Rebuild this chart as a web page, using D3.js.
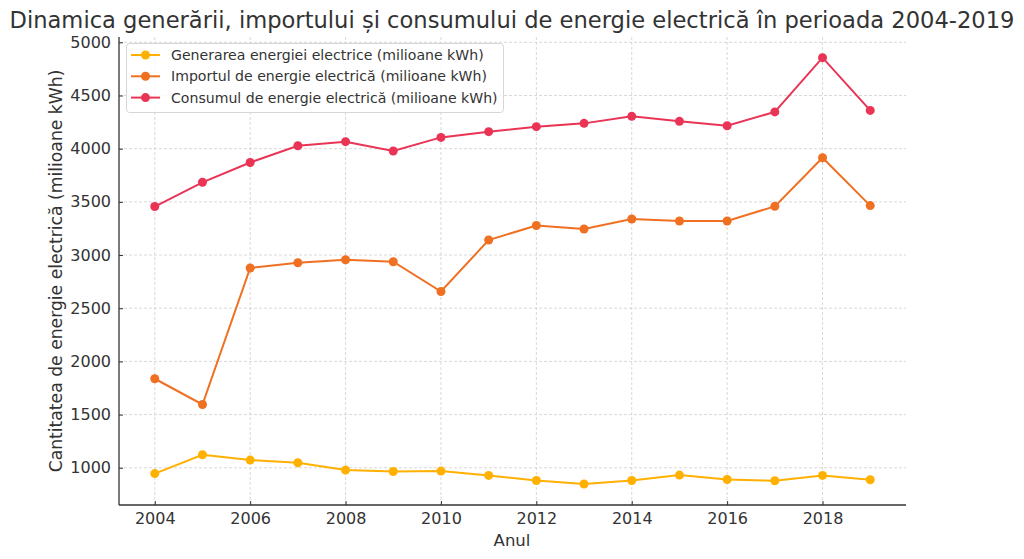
<!DOCTYPE html>
<html><head><meta charset="utf-8">
<script src="https://cdn.jsdelivr.net/npm/d3@7"></script>
<style>body{margin:0;background:#fff}svg{font-family:"DejaVu Sans",sans-serif}</style>
</head><body><svg id="c" width="1024" height="559"></svg>
<script>
const years = [2004,2005,2006,2007,2008,2009,2010,2011,2012,2013,2014,2015,2016,2017,2018,2019];
const generare = [945,1122,1072,1047,978,965,969,928,880,847,880,931,890,878,928,887];
const import_ = [1837,1595,2878,2928,2956,2937,2657,3141,3278,3245,3339,3320,3320,3458,3915,3465];
const consum = [3456,3684,3870,4028,4066,3978,4106,4160,4207,4238,4304,4257,4216,4346,4856,4360];
const seriesNames = ["Generarea energiei electrice (milioane kWh)","Importul de energie electrică (milioane kWh)","Consumul de energie electrică (milioane kWh)"];
const colors = ["#FFB000","#F07022","#EA3456"];
const xTicks = [2004,2006,2008,2010,2012,2014,2016,2018];
const yTicks = [1000,1500,2000,2500,3000,3500,4000,4500,5000];

const svg = d3.select("#c");
const L=119,R=906,T=37,B=505;
const x = d3.scaleLinear().domain([2003.25,2019.75]).range([L,R]);
const y = d3.scaleLinear().domain([650,5050]).range([B,T]);
const txt="#333";

// grid
svg.append("g").selectAll("line").data(xTicks).join("line")
  .attr("x1",d=>x(d)).attr("x2",d=>x(d)).attr("y1",T).attr("y2",B)
  .attr("stroke","#cfcfcf").attr("stroke-width",0.8).attr("stroke-dasharray","3,2");
svg.append("g").selectAll("line").data(yTicks).join("line")
  .attr("x1",L).attr("x2",R).attr("y1",d=>y(d)).attr("y2",d=>y(d))
  .attr("stroke","#cfcfcf").attr("stroke-width",0.8).attr("stroke-dasharray","3,2");

// axes
const xa = svg.append("g").attr("transform",`translate(0,${B})`)
  .call(d3.axisBottom(x).tickValues(xTicks).tickFormat(d3.format("d")).tickSizeInner(-4).tickSizeOuter(0).tickPadding(8));
const ya = svg.append("g").attr("transform",`translate(${L},0)`)
  .call(d3.axisLeft(y).tickValues(yTicks).tickFormat(d3.format("d")).tickSizeInner(-4).tickSizeOuter(0).tickPadding(8));
[xa,ya].forEach(a=>{
  a.select(".domain").attr("stroke","#333").attr("stroke-width",1.3);
  a.selectAll(".tick line").attr("stroke","#333");
  a.selectAll(".tick text").attr("fill",txt).style("font-size","16px").style("font-family","DejaVu Sans");
});
xa.select(".domain").attr("d",`M${L},0H${R}`);
ya.select(".domain").attr("d",`M0,${B}V${T}`);

// lines
const data=[generare,import_,consum];
data.forEach((vals,i)=>{
  const pts = years.map((yr,j)=>[yr,vals[j]]);
  svg.append("path").datum(pts)
    .attr("d",d3.line().x(d=>x(d[0])).y(d=>y(d[1])))
    .attr("fill","none").attr("stroke",colors[i]).attr("stroke-width",2);
  svg.append("g").selectAll("circle").data(pts).join("circle")
    .attr("cx",d=>x(d[0])).attr("cy",d=>y(d[1])).attr("r",4.5).attr("fill",colors[i]);
});

// titles
svg.append("text").attr("x",512).attr("y",28).attr("text-anchor","middle")
  .attr("fill",txt).style("font-size","22.6px").text("Dinamica generării, importului și consumului de energie electrică în perioada 2004-2019");
svg.append("text").attr("x",512).attr("y",546).attr("text-anchor","middle")
  .attr("fill",txt).style("font-size","16.5px").text("Anul");
svg.append("text").attr("transform",`translate(62,${(T+B)/2}) rotate(-90)`).attr("text-anchor","middle")
  .attr("fill",txt).style("font-size","17.2px").text("Cantitatea de energie electrică (milioane kWh)");

// legend
const lg = svg.append("g");
lg.append("rect").attr("x",126.5).attr("y",43.5).attr("width",377).attr("height",69).attr("rx",3)
  .attr("fill","#fff").attr("fill-opacity",0.8).attr("stroke","#d6d6d6");
seriesNames.forEach((n,i)=>{
  const yy = 55 + i*21.3;
  lg.append("line").attr("x1",131).attr("x2",160).attr("y1",yy).attr("y2",yy).attr("stroke",colors[i]).attr("stroke-width",2);
  lg.append("circle").attr("cx",145.5).attr("cy",yy).attr("r",4.5).attr("fill",colors[i]);
  lg.append("text").attr("x",171).attr("y",yy+5).attr("fill",txt).style("font-size","14.1px").text(n);
});
</script></body></html>
